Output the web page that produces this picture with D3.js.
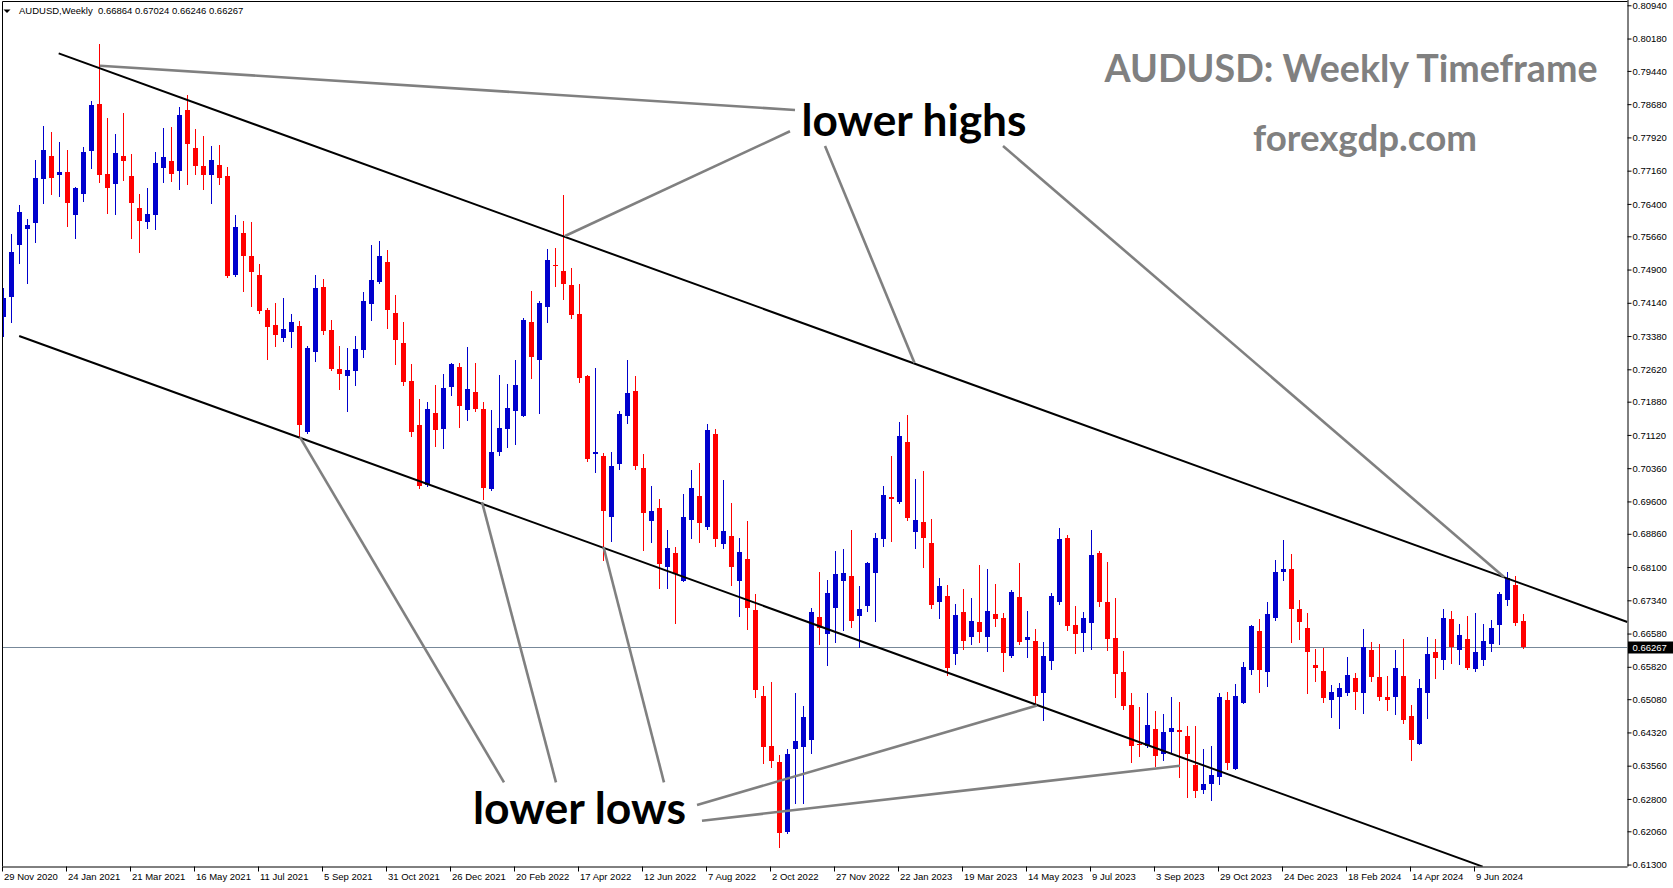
<!DOCTYPE html>
<html><head><meta charset="utf-8">
<script src="https://cdn.jsdelivr.net/npm/d3@7"></script>
<style>body{margin:0;background:#fff}svg{display:block}</style>
</head><body>
<svg id="c" width="1673" height="888"></svg>
<script>
// ---------- data ----------
const headerText = "AUDUSD,Weekly  0.66864 0.67024 0.66246 0.66267";
const firstWeek = "29 Nov 2020";
const open = [0.7381,0.7428,0.7547,0.7582,0.7597,0.7698,0.7750,0.7705,0.7713,0.7615,
0.7663,0.7762,0.7868,0.7708,0.7686,0.7750,0.7704,0.7631,0.7599,0.7615,
0.7723,0.7738,0.7716,0.7855,0.7768,0.7727,0.7707,0.7729,0.7704,0.7478,
0.7574,0.7521,0.7478,0.7398,0.7363,0.7334,0.7348,0.7361,0.7119,0.7302,
0.7450,0.7352,0.7263,0.7247,0.7257,0.7305,0.7412,0.7462,0.7507,0.7391,
0.7322,0.7235,0.7135,0.6998,0.7161,0.7126,0.7222,0.7267,0.7170,0.7210,
0.7171,0.6988,0.7074,0.7126,0.7167,0.7156,0.7370,0.7284,0.7405,0.7500,
0.7487,0.7455,0.7388,0.7247,0.7069,0.7064,0.6925,0.7046,0.7156,0.7212,
0.7036,0.6916,0.6945,0.6811,0.6842,0.6779,0.6918,0.6972,0.6902,0.7114,
0.6863,0.6881,0.6777,0.6828,0.6712,0.6515,0.6400,0.6364,0.6205,0.6393,
0.6399,0.6415,0.6696,0.6658,0.6717,0.6779,0.6790,0.6699,0.6722,0.6797,
0.6873,0.6970,0.6959,0.7096,0.6891,0.6913,0.6865,0.6729,0.6744,0.6612,
0.6707,0.6651,0.6684,0.6649,0.6703,0.6694,0.6607,0.6742,0.6644,0.6642,
0.6521,0.6596,0.6731,0.6876,0.6678,0.6660,0.6683,0.6842,0.6730,0.6648,
0.6570,0.6495,0.6406,0.6402,0.6440,0.6383,0.6433,0.6438,0.6424,0.6358,
0.6301,0.6313,0.6331,0.6506,0.6349,0.6500,0.6575,0.6664,0.6569,0.6694,
0.6799,0.6806,0.6714,0.6671,0.6586,0.6572,0.6507,0.6514,0.6523,0.6556,
0.6521,0.6620,0.6559,0.6513,0.6514,0.6561,0.6470,0.6406,0.6521,0.6616,
0.6598,0.6691,0.6621,0.6646,0.6578,0.6598,0.6635,0.6678,0.6735,0.6769,
0.66864];
const high = [0.7447,0.7571,0.7638,0.7605,0.7740,0.7818,0.7804,0.7782,0.7763,0.7679,
0.7770,0.7875,0.8006,0.7836,0.7800,0.7848,0.7754,0.7663,0.7676,0.7759,
0.7814,0.7816,0.7862,0.7889,0.7811,0.7795,0.7772,0.7775,0.7724,0.7615,
0.7601,0.7599,0.7503,0.7402,0.7414,0.7425,0.7388,0.7372,0.7315,0.7478,
0.7468,0.7375,0.7315,0.7311,0.7338,0.7439,0.7547,0.7555,0.7535,0.7432,
0.7370,0.7274,0.7195,0.7188,0.7225,0.7251,0.7276,0.7276,0.7313,0.7276,
0.7187,0.7170,0.7249,0.7228,0.7283,0.7379,0.7441,0.7418,0.7537,0.7539,
0.7660,0.7494,0.7457,0.7249,0.7265,0.7071,0.7073,0.7167,0.7283,0.7247,
0.7068,0.6996,0.6966,0.6895,0.6856,0.6977,0.7032,0.7048,0.7137,0.7126,
0.7009,0.6956,0.6877,0.6915,0.6748,0.6539,0.6547,0.6380,0.6394,0.6522,
0.6492,0.6716,0.6799,0.6780,0.6847,0.6851,0.6895,0.6767,0.6822,0.6888,
0.6995,0.7064,0.7142,0.7158,0.7011,0.7030,0.6920,0.6785,0.6769,0.6726,
0.6760,0.6739,0.6814,0.6806,0.6771,0.6705,0.6758,0.6819,0.6710,0.6668,
0.6639,0.6751,0.6899,0.6883,0.6721,0.6707,0.6895,0.6847,0.6822,0.6739,
0.6618,0.6522,0.6490,0.6522,0.6481,0.6474,0.6513,0.6502,0.6447,0.6447,
0.6395,0.6402,0.6521,0.6524,0.6543,0.6593,0.6678,0.6691,0.6730,0.6826,
0.6872,0.6840,0.6735,0.6705,0.6623,0.6625,0.6540,0.6545,0.6605,0.6568,
0.6668,0.6639,0.6634,0.6561,0.6620,0.6646,0.6495,0.6555,0.6650,0.6646,
0.6714,0.6710,0.6680,0.6698,0.6705,0.6680,0.6689,0.6753,0.6799,0.6790,
0.67024];
const low = [0.7337,0.7371,0.7506,0.7460,0.7554,0.7641,0.7663,0.7657,0.7590,0.7561,
0.7647,0.7721,0.7689,0.7620,0.7618,0.7695,0.7561,0.7529,0.7586,0.7583,
0.7689,0.7693,0.7673,0.7686,0.7709,0.7675,0.7643,0.7686,0.7474,0.7475,
0.7442,0.7407,0.7390,0.7286,0.7316,0.7327,0.7314,0.7108,0.7116,0.7282,
0.7343,0.7261,0.7218,0.7167,0.7225,0.7291,0.7375,0.7460,0.7357,0.7275,
0.7225,0.7110,0.6991,0.6996,0.7087,0.7081,0.7204,0.7129,0.7147,0.7167,
0.6966,0.6985,0.7065,0.7085,0.7092,0.7156,0.7243,0.7163,0.7371,0.7453,
0.7423,0.7380,0.7234,0.7053,0.7028,0.6827,0.6870,0.7033,0.7140,0.7035,
0.6850,0.6868,0.6763,0.6761,0.6681,0.6779,0.6877,0.6868,0.6898,0.6859,
0.6854,0.6770,0.6699,0.6669,0.6512,0.6363,0.6354,0.6171,0.6203,0.6271,
0.6271,0.6386,0.6633,0.6585,0.6639,0.6667,0.6674,0.6628,0.6710,0.6687,
0.6859,0.6870,0.6957,0.6918,0.6854,0.6811,0.6717,0.6694,0.6564,0.6589,
0.6623,0.6633,0.6639,0.6619,0.6676,0.6573,0.6605,0.6635,0.6605,0.6493,
0.6461,0.6578,0.6726,0.6665,0.6614,0.6618,0.6623,0.6722,0.6621,0.6514,
0.6486,0.6365,0.6379,0.6399,0.6356,0.6370,0.6386,0.6331,0.6285,0.6285,
0.6294,0.6278,0.6315,0.6349,0.6349,0.6500,0.6566,0.6525,0.6537,0.6690,
0.6780,0.6639,0.6646,0.6523,0.6550,0.6502,0.6468,0.6443,0.6518,0.6486,
0.6477,0.6550,0.6505,0.6484,0.6475,0.6454,0.6370,0.6406,0.6466,0.6557,
0.6578,0.6591,0.6589,0.6578,0.6573,0.6585,0.6619,0.6633,0.6724,0.6678,
0.66246];
const close = [0.7424,0.7530,0.7621,0.7592,0.7699,0.7763,0.7700,0.7713,0.7641,0.7676,
0.7759,0.7866,0.7705,0.7677,0.7756,0.7739,0.7641,0.7602,0.7618,0.7734,
0.7747,0.7709,0.7843,0.7778,0.7727,0.7707,0.7740,0.7700,0.7476,0.7587,
0.7522,0.7485,0.7396,0.7359,0.7341,0.7354,0.7370,0.7135,0.7311,0.7448,
0.7350,0.7263,0.7252,0.7260,0.7308,0.7418,0.7466,0.7521,0.7398,0.7330,
0.7234,0.7119,0.6996,0.7171,0.7124,0.7219,0.7274,0.7179,0.7216,0.7171,
0.6991,0.7073,0.7128,0.7174,0.7226,0.7375,0.7289,0.7414,0.7512,0.7497,
0.7458,0.7387,0.7241,0.7058,0.7073,0.6937,0.7041,0.7160,0.7208,0.7042,
0.6934,0.6938,0.6818,0.6853,0.6795,0.6924,0.6990,0.6911,0.7123,0.6875,
0.6892,0.6809,0.6844,0.6717,0.6530,0.6399,0.6367,0.6201,0.6383,0.6412,
0.6467,0.6707,0.6671,0.6751,0.6794,0.6796,0.6687,0.6714,0.6819,0.6876,
0.6975,0.6966,0.7110,0.6921,0.6918,0.6877,0.6724,0.6767,0.6580,0.6700,
0.6642,0.6687,0.6662,0.6710,0.6692,0.6614,0.6753,0.6639,0.6650,0.6516,
0.6607,0.6744,0.6874,0.6676,0.6658,0.6694,0.6838,0.6731,0.6646,0.6566,
0.6493,0.6402,0.6403,0.6449,0.6377,0.6433,0.6442,0.6434,0.6383,0.6297,
0.6315,0.6335,0.6514,0.6361,0.6515,0.6582,0.6675,0.6575,0.6703,0.6799,
0.6806,0.6713,0.6685,0.6616,0.6580,0.6511,0.6524,0.6534,0.6563,0.6525,
0.6627,0.6559,0.6514,0.6507,0.6579,0.6461,0.6415,0.6534,0.6611,0.6603,
0.6694,0.6627,0.6655,0.6580,0.6616,0.6641,0.6671,0.6748,0.6785,0.6683,
0.66267];
const xTickLabels = ["29 Nov 2020","24 Jan 2021","21 Mar 2021","16 May 2021","11 Jul 2021","5 Sep 2021",
"31 Oct 2021","26 Dec 2021","20 Feb 2022","17 Apr 2022","12 Jun 2022","7 Aug 2022","2 Oct 2022",
"27 Nov 2022","22 Jan 2023","19 Mar 2023","14 May 2023","9 Jul 2023","3 Sep 2023","29 Oct 2023",
"24 Dec 2023","18 Feb 2024","14 Apr 2024","9 Jun 2024"];
const yTickLabels = ["0.80940","0.80180","0.79440","0.78680","0.77920","0.77160","0.76400","0.75660",
"0.74900","0.74140","0.73380","0.72620","0.71880","0.71120","0.70360","0.69600","0.68860","0.68100",
"0.67340","0.66580","0.65820","0.65080","0.64320","0.63560","0.62800","0.62060","0.61300"];
const lastPrice = 0.66267;
// trend lines: [week index, price]
const upperChannel = [[6.9,0.79841],[202.98,0.66844]];
const lowerChannel = [[1.96,0.73381],[184.9,0.61253]];
const highPointers = [
  [[12.06,0.79559],[98.94,0.78547]],
  [[70.19,0.75667],[98.31,0.78060]],
  [[102.69,0.77724],[113.88,0.72764]],
  [[124.94,0.77724],[187.56,0.67873]]
];
const lowPointers = [
  [[37.06,0.71070],[62.56,0.63180]],
  [[59.81,0.69587],[69.06,0.63180]],
  [[75.00,0.68558],[82.56,0.63180]],
  [[86.69,0.62661],[129.19,0.64935]],
  [[87.31,0.62302],[147.06,0.63559]]
];
const titleText = "AUDUSD: Weekly Timeframe";
const siteText = "forexgdp.com";
const highsText = "lower highs";
const lowsText = "lower lows";

// ---------- scales ----------
const svg = d3.select("#c");
const W = 1673, H = 888;
const plotL = 2.5, plotR = 1627.5, plotT = 1.5, plotB = 866.5;
const n = close.length;
const x = d3.scaleLinear().domain([0, n - 1]).range([3.5, 3.5 + 8 * (n - 1)]);
const y = d3.scaleLinear().domain([0.61267, 0.81061]).range([866, 0]);
const parse = d3.utcParse("%d %b %Y");
const t0 = parse(firstWeek);
const weekIndex = s => d3.utcDay.count(t0, parse(s)) / 7;

svg.append("rect").attr("width", W).attr("height", H).attr("fill", "#fff");
svg.append("defs").append("clipPath").attr("id", "clip")
  .append("rect").attr("x", plotL).attr("y", plotT).attr("width", plotR - plotL).attr("height", plotB - plotT);

const plot = svg.append("g").attr("clip-path", "url(#clip)");

// current price line
plot.append("line").attr("x1", plotL).attr("x2", plotR)
  .attr("y1", Math.round(y(lastPrice)) + 0.5).attr("y2", Math.round(y(lastPrice)) + 0.5)
  .attr("stroke", "#778899").attr("stroke-width", 1);

// candles
const data = d3.range(n).map(i => ({i, o: open[i], h: high[i], l: low[i], c: close[i]}));
const col = d => d.c >= d.o ? "#0000CD" : "#FF0000";
const cg = plot.append("g");
cg.selectAll("line.w").data(data).join("line").attr("class", "w")
  .attr("x1", d => x(d.i)).attr("x2", d => x(d.i))
  .attr("y1", d => Math.round(y(d.h))).attr("y2", d => Math.round(y(d.l)) + 1)
  .attr("stroke", col).attr("stroke-width", 1);
cg.selectAll("rect.b").data(data).join("rect").attr("class", "b")
  .attr("x", d => x(d.i) - 2.5).attr("width", 5)
  .attr("y", d => Math.round(y(Math.max(d.o, d.c))))
  .attr("height", d => Math.max(1, Math.round(y(Math.min(d.o, d.c))) - Math.round(y(Math.max(d.o, d.c)))))
  .attr("fill", col);

// trend lines
const line = d3.line().x(p => x(p[0])).y(p => y(p[1]));
plot.append("path").attr("d", line(upperChannel)).attr("stroke", "#000").attr("stroke-width", 2).attr("fill", "none");
plot.append("path").attr("d", line(lowerChannel)).attr("stroke", "#000").attr("stroke-width", 2).attr("fill", "none");
highPointers.concat(lowPointers).forEach(seg => {
  plot.append("path").attr("d", line(seg)).attr("stroke", "#808080").attr("stroke-width", 2.6).attr("fill", "none");
});

// texts
const big = (t, xx, yy, size, len, fill) => svg.append("text").text(t)
  .attr("x", xx).attr("y", yy).attr("font-family", "Lato, 'Open Sans', sans-serif").attr("font-weight", 700)
  .attr("font-size", size).attr("fill", fill)
  .attr("textLength", len).attr("lengthAdjust", "spacingAndGlyphs");
big(titleText, 1104.6, 81.5, 38, 493, "#808080");
big(siteText, 1253, 150.5, 36, 224, "#808080");
big(highsText, 801.5, 135.5, 44, 225, "#000");
big(lowsText, 473, 824, 44, 213, "#000");

// frame
const fr = svg.append("g").attr("stroke", "#000").attr("stroke-width", 1).attr("fill", "none");
fr.append("path").attr("d", `M${plotL},${plotB}V${plotT}H${plotR}`);

// y axis
const yAx = svg.append("g").attr("transform", `translate(${plotR},0)`)
  .call(d3.axisRight(y).tickValues(yTickLabels.map(Number)).tickSize(4).tickSizeOuter(0)
    .tickFormat((d, i) => yTickLabels[i]));
yAx.select(".domain").attr("d", `M0.5,0V${plotB}`).attr("stroke", "#000");
yAx.selectAll("text").attr("font-family", "'Liberation Sans', Arial, sans-serif").attr("font-size", 9.5)
  .attr("x", 5).attr("dy", "0.33em").attr("fill", "#000");

// price label
const py = Math.round(y(lastPrice)) + 0.5;
svg.append("rect").attr("x", plotR + 0.5).attr("y", py - 6).attr("width", W - plotR).attr("height", 12).attr("fill", "#000");
svg.append("text").text(lastPrice.toFixed(5)).attr("x", plotR + 5).attr("y", py).attr("dy", "0.35em")
  .attr("font-family", "'Liberation Sans', Arial, sans-serif").attr("font-size", 9.5).attr("fill", "#fff");

// x axis
const xAx = svg.append("g").attr("transform", `translate(0,${plotB})`)
  .call(d3.axisBottom(x).tickValues(xTickLabels.map(weekIndex)).tickSize(5).tickSizeOuter(0)
    .tickFormat((d, i) => xTickLabels[i]));
xAx.select(".domain").attr("d", `M${plotL},0.5H${plotR}`).attr("stroke", "#000");
xAx.selectAll(".tick line").attr("transform", "translate(-1.5,0)");
xAx.selectAll("text").attr("font-family", "'Liberation Sans', Arial, sans-serif").attr("font-size", 9.5)
  .attr("text-anchor", "start").attr("x", 0).attr("y", 7).attr("dy", "0.71em").attr("fill", "#000");

// header
svg.append("path").attr("d", "M3.5,9.5L10.5,9.5L7,13Z").attr("fill", "#000");
svg.append("text").text(headerText).attr("x", 19).attr("y", 14)
  .attr("font-family", "'Liberation Sans', Arial, sans-serif").attr("font-size", 9.5).attr("fill", "#000")
  .style("white-space", "pre").attr("xml:space", "preserve");
</script>
</body></html>
